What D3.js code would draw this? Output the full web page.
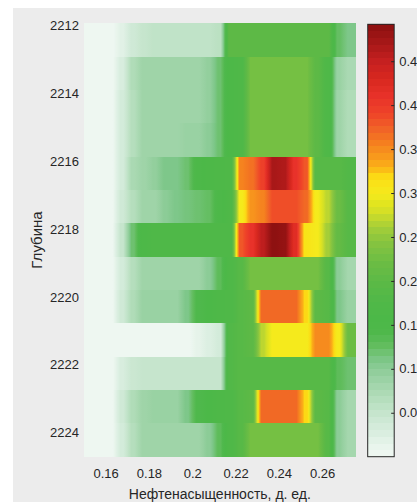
<!DOCTYPE html>
<html>
<head>
<meta charset="utf-8">
<script src="https://cdn.jsdelivr.net/npm/d3@7"></script>
<style>
  body { margin: 0; background: #fff; }
  svg { display: block; }
  text { font-family: "Liberation Sans", Arial, sans-serif; fill: #262626; }
</style>
</head>
<body>
<script>
// depth of each row (m) and centre of each saturation column
const depths = [2212.43, 2213.41, 2214.39, 2215.38, 2216.36, 2217.34, 2218.32,
                2219.31, 2220.29, 2221.27, 2222.25, 2223.24, 2224.22];
const satCenters = [0.1525, 0.1575, 0.1625, 0.1675, 0.1725, 0.1775, 0.1825, 0.1875,
                    0.1925, 0.1975, 0.2025, 0.2075, 0.2125, 0.2175, 0.2225, 0.2275,
                    0.2325, 0.2375, 0.2425, 0.2475, 0.2525, 0.2575, 0.2625, 0.2675, 0.2725];

// one row per depth, one value per column
const density = [
  [0.005,0.005,0.005,0.02,0.04,0.05,0.055,0.055,0.055,0.055,0.055,0.055,0.06,0.2,0.2,0.2,0.2,0.2,0.2,0.2,0.2,0.2,0.2,0.125,0.11],
  [0.005,0.005,0.005,0.03,0.07,0.085,0.085,0.085,0.085,0.085,0.085,0.095,0.12,0.16,0.17,0.23,0.23,0.23,0.23,0.23,0.23,0.2,0.17,0.09,0.075],
  [0.005,0.005,0.005,0.035,0.065,0.085,0.085,0.085,0.085,0.085,0.085,0.095,0.12,0.16,0.17,0.23,0.23,0.23,0.23,0.23,0.23,0.2,0.17,0.085,0.07],
  [0.005,0.005,0.005,0.035,0.065,0.085,0.085,0.085,0.085,0.09,0.09,0.1,0.12,0.16,0.17,0.23,0.23,0.23,0.23,0.23,0.23,0.2,0.17,0.085,0.07],
  [0.005,0.005,0.005,0.035,0.075,0.085,0.095,0.11,0.11,0.12,0.15,0.16,0.165,0.17,0.355,0.365,0.395,0.47,0.465,0.41,0.38,0.19,0.19,0.19,0.18],
  [0.005,0.005,0.005,0.04,0.065,0.085,0.085,0.1,0.11,0.115,0.12,0.125,0.15,0.17,0.3,0.345,0.355,0.385,0.385,0.385,0.37,0.3,0.27,0.22,0.19],
  [0.005,0.005,0.005,0.05,0.12,0.16,0.17,0.17,0.17,0.17,0.17,0.17,0.17,0.17,0.38,0.41,0.455,0.49,0.485,0.42,0.31,0.3,0.26,0.21,0.19],
  [0.005,0.005,0.005,0.035,0.065,0.085,0.085,0.085,0.085,0.085,0.085,0.1,0.13,0.17,0.19,0.23,0.23,0.23,0.23,0.23,0.23,0.23,0.19,0.1,0.08],
  [0.005,0.005,0.005,0.04,0.07,0.09,0.09,0.09,0.09,0.11,0.14,0.155,0.165,0.17,0.19,0.2,0.37,0.37,0.37,0.37,0.32,0.2,0.19,0.11,0.09],
  [0.005,0.005,0.005,0.005,0.005,0.005,0.005,0.005,0.005,0.005,0.015,0.025,0.035,0.18,0.19,0.2,0.27,0.3,0.3,0.3,0.3,0.35,0.35,0.3,0.22],
  [0.005,0.005,0.005,0.03,0.045,0.05,0.05,0.05,0.05,0.05,0.05,0.05,0.05,0.18,0.19,0.19,0.19,0.19,0.19,0.19,0.19,0.19,0.19,0.13,0.12],
  [0.005,0.005,0.005,0.04,0.07,0.085,0.09,0.09,0.09,0.11,0.14,0.155,0.165,0.17,0.19,0.2,0.37,0.37,0.37,0.37,0.32,0.2,0.19,0.1,0.08],
  [0.005,0.005,0.005,0.035,0.065,0.085,0.085,0.085,0.085,0.085,0.085,0.1,0.13,0.17,0.19,0.23,0.23,0.23,0.23,0.23,0.23,0.23,0.19,0.1,0.08]
];

const depthTicks = [2212, 2214, 2216, 2218, 2220, 2222, 2224];
const satTicks = [0.16, 0.18, 0.2, 0.22, 0.24, 0.26];
const cbarTicks = [0.05, 0.1, 0.15, 0.2, 0.25, 0.3, 0.35, 0.4, 0.45];

// colormap
const cmapValues = [0, 0.007, 0.025, 0.048, 0.07, 0.093, 0.11, 0.127, 0.14, 0.155, 0.176, 0.199,
                    0.222, 0.244, 0.258, 0.27, 0.28, 0.29, 0.3, 0.31, 0.32, 0.33, 0.345, 0.36,
                    0.375, 0.39, 0.41, 0.43, 0.45, 0.47, 0.492];
const cmapColors = ["#eef7f1","#eef7f1","#dcefe2","#c8e6cf","#b0dcb8","#96d0a0","#7ec78a","#62bd5e",
                    "#4fb84c","#4cb848","#50b848","#5cb946","#6cbd44","#86c440","#9fcc3a","#bcd630",
                    "#d5e025","#e5e61e","#f5ea1c","#f8e318","#fcd815","#fbb017","#f7941d","#f47a20",
                    "#f06028","#ef4528","#e8322a","#d8281f","#c52020","#a81818","#8b1010"];

const W = 417, H = 502;
const svg = d3.select("body").append("svg").attr("width", W).attr("height", H);

// figure background
svg.append("rect").attr("x", 13).attr("y", 8).attr("width", W - 13).attr("height", H - 8)
  .attr("fill", "#ececec");

const x = d3.scaleLinear().domain([0.15, 0.2755]).range([84, 355.7]);
const y = d3.scaleLinear().domain([2211.94, 2224.71]).range([23.3, 456.7]);
const color = d3.scaleLinear().domain(cmapValues).range(cmapColors).clamp(true);

const [x0, x1] = x.range();
const colHalf = (satCenters[1] - satCenters[0]) / 2;
const rowHalf = (depths[1] - depths[0]) / 2;
const bounds = satCenters.slice(1).map(c => x(c - colHalf));
const ramp = 4;

// one horizontal gradient per row, blending values across column edges
const defs = svg.append("defs");
density.forEach((row, i) => {
  const knots = [[x0, row[0]]];
  bounds.forEach((b, j) => {
    const a = row[j], c = row[j + 1];
    for (let k = 0; k <= 8; k++) knots.push([b - ramp + 2 * ramp * k / 8, a + (c - a) * k / 8]);
  });
  knots.push([x1, row[row.length - 1]]);
  defs.append("linearGradient")
      .attr("id", "row" + i)
      .attr("gradientUnits", "userSpaceOnUse")
      .attr("x1", x0).attr("x2", x1).attr("y1", 0).attr("y2", 0)
    .selectAll("stop")
    .data(knots)
    .join("stop")
      .attr("offset", d => (d[0] - x0) / (x1 - x0))
      .attr("stop-color", d => color(d[1]));
});

svg.append("g").attr("shape-rendering", "crispEdges").selectAll("rect")
  .data(depths)
  .join("rect")
    .attr("x", x0)
    .attr("width", x1 - x0)
    .attr("y", d => y(d - rowHalf))
    .attr("height", d => y(d + rowHalf) - y(d - rowHalf) + 0.5)
    .attr("fill", (d, i) => `url(#row${i})`);

// axes
const yAxis = svg.append("g").attr("transform", `translate(${x0},0)`)
  .call(d3.axisLeft(y).tickValues(depthTicks).tickSize(0).tickPadding(5).tickFormat(d3.format("d")));
const xAxis = svg.append("g").attr("transform", `translate(0,${y.range()[1]})`)
  .call(d3.axisBottom(x).tickValues(satTicks).tickSize(0).tickPadding(12.5).tickFormat(d => String(d)));
[yAxis, xAxis].forEach(g => {
  g.select(".domain").remove();
  g.selectAll("text").attr("font-size", 13).attr("font-family", null).attr("fill", "#262626");
});

svg.append("text")
  .attr("x", (x0 + x1) / 2).attr("y", 499)
  .attr("text-anchor", "middle").attr("font-size", 14)
  .text("Нефтенасыщенность, д. ед.");

svg.append("text")
  .attr("transform", `translate(41.5,${(y.range()[0] + y.range()[1]) / 2}) rotate(-90)`)
  .attr("text-anchor", "middle").attr("font-size", 15)
  .text("Глубина");

// colour bar
const cbX = 367.7, cbW = 26.5;
const cbY = d3.scaleLinear().domain([0, 0.492]).range([456.7, 24.3]);
const levels = d3.range(64);
const step = 0.492 / 64;
svg.append("g").attr("shape-rendering", "crispEdges").selectAll("rect")
  .data(levels)
  .join("rect")
    .attr("x", cbX)
    .attr("width", cbW)
    .attr("y", k => cbY((k + 1) * step))
    .attr("height", k => cbY(k * step) - cbY((k + 1) * step) + 0.4)
    .attr("fill", k => color((k + 0.5) * step));

svg.append("rect")
  .attr("x", cbX).attr("y", cbY.range()[1])
  .attr("width", cbW).attr("height", cbY.range()[0] - cbY.range()[1])
  .attr("fill", "none").attr("stroke", "#262626").attr("stroke-width", 1);

// the tick labels run past the right edge of the figure, as in the original
const cAxis = svg.append("g").attr("transform", `translate(${cbX + cbW},0)`)
  .call(d3.axisRight(cbY).tickValues(cbarTicks).tickSize(-3).tickPadding(5)
    .tickFormat(d => String(+d.toFixed(2))));
cAxis.select(".domain").remove();
cAxis.selectAll("line").attr("stroke", "#262626");
cAxis.selectAll("text").attr("font-size", 13).attr("font-family", null).attr("fill", "#262626");
</script>
</body>
</html>
